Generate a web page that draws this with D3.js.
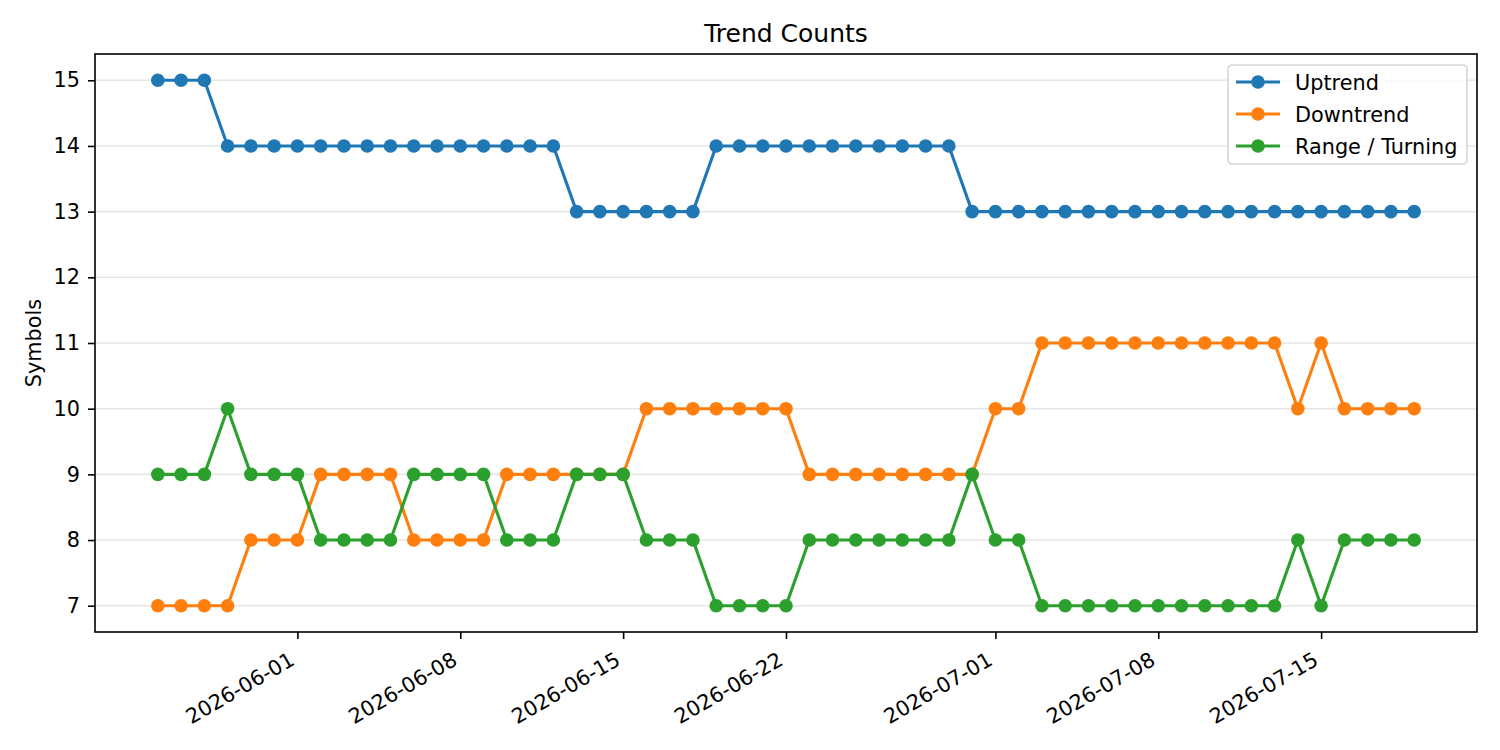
<!DOCTYPE html>
<html>
<head>
<meta charset="utf-8">
<script src="https://cdn.jsdelivr.net/npm/d3@7"></script>
<style>
body { margin: 0; background: #fff; }
text { font-family: "DejaVu Sans", sans-serif; }
</style>
</head>
<body>
<script>
// dates of the daily counts
const dates = [
  "2026-05-26","2026-05-27","2026-05-28","2026-05-29","2026-05-30","2026-05-31",
  "2026-06-01","2026-06-02","2026-06-03","2026-06-04","2026-06-05","2026-06-06","2026-06-07",
  "2026-06-08","2026-06-09","2026-06-10","2026-06-11","2026-06-12","2026-06-13","2026-06-14",
  "2026-06-15","2026-06-16","2026-06-17","2026-06-18","2026-06-19","2026-06-20","2026-06-21",
  "2026-06-22","2026-06-23","2026-06-24","2026-06-25","2026-06-26","2026-06-27","2026-06-28",
  "2026-06-29","2026-06-30","2026-07-01","2026-07-02","2026-07-03","2026-07-04","2026-07-05",
  "2026-07-06","2026-07-07","2026-07-08","2026-07-09","2026-07-10","2026-07-11","2026-07-12",
  "2026-07-13","2026-07-14","2026-07-15","2026-07-16","2026-07-17","2026-07-18","2026-07-19"
];
const uptrend = [
  15,15,15,14,14,14,
  14,14,14,14,14,14,14,
  14,14,14,14,14,13,13,
  13,13,13,13,14,14,14,
  14,14,14,14,14,14,14,
  14,13,13,13,13,13,13,
  13,13,13,13,13,13,13,
  13,13,13,13,13,13,13
];
const downtrend = [
  7,7,7,7,8,8,
  8,9,9,9,9,8,8,
  8,8,9,9,9,9,9,
  9,10,10,10,10,10,10,
  10,9,9,9,9,9,9,
  9,9,10,10,11,11,11,
  11,11,11,11,11,11,11,
  11,10,11,10,10,10,10
];
const rangeTurning = [
  9,9,9,10,9,9,
  9,8,8,8,8,9,9,
  9,9,8,8,8,9,9,
  9,8,8,8,7,7,7,
  7,8,8,8,8,8,8,
  8,9,8,8,7,7,7,
  7,7,7,7,7,7,7,
  7,8,7,8,8,8,8
];
const seriesNames = ["Uptrend", "Downtrend", "Range / Turning"];
const seriesColors = ["#1f77b4", "#ff7f0e", "#2ca02c"];
const yTicks = [7, 8, 9, 10, 11, 12, 13, 14, 15];
const xTickDates = ["2026-06-01","2026-06-08","2026-06-15","2026-06-22","2026-07-01","2026-07-08","2026-07-15"];

const W = 1500, H = 750;
const plotL = 95, plotR = 1477, plotT = 54, plotB = 632;

const parse = d3.utcParse("%Y-%m-%d");
const days = dates.map(parse);
const allSeries = [uptrend, downtrend, rangeTurning];

const svg = d3.select("body").append("svg")
  .attr("width", W)
  .attr("height", H);

// matplotlib-like 5% margins
const x0 = days[0], x1 = days[days.length - 1];
const span = x1 - x0;
const x = d3.scaleUtc()
  .domain([new Date(+x0 - span * 0.05), new Date(+x1 + span * 0.05)])
  .range([plotL, plotR]);

const yMin = d3.min(allSeries.flat()), yMax = d3.max(allSeries.flat());
const yPad = (yMax - yMin) * 0.05;
const y = d3.scaleLinear()
  .domain([yMin - yPad, yMax + yPad])
  .range([plotB, plotT]);

// grid
svg.append("g")
  .selectAll("line")
  .data(yTicks)
  .enter()
  .append("line")
  .attr("x1", plotL)
  .attr("x2", plotR)
  .attr("y1", d => y(d))
  .attr("y2", d => y(d))
  .attr("stroke", "#e6e6e6")
  .attr("stroke-width", 1.6)

// lines and markers
const line = d3.line()
  .x((d, i) => x(days[i]))
  .y(d => y(d));

allSeries.forEach((vals, k) => {
  const g = svg.append("g");
  g.append("path")
    .datum(vals)
    .attr("d", line)
    .attr("fill", "none")
    .attr("stroke", seriesColors[k])
    .attr("stroke-width", 3.1)
    .attr("stroke-linejoin", "round");
  g.selectAll("circle")
    .data(vals)
    .enter()
    .append("circle")
    .attr("cx", (d, i) => x(days[i]))
    .attr("cy", d => y(d))
    .attr("r", 6.8)
    .attr("fill", seriesColors[k]);
});

// axes frame
svg.append("rect")
  .attr("x", plotL)
  .attr("y", plotT)
  .attr("width", plotR - plotL)
  .attr("height", plotB - plotT)
  .attr("fill", "none")
  .attr("stroke", "#000")
  .attr("stroke-width", 1.6);

// y axis
const yAxis = d3.axisLeft(y)
  .tickValues(yTicks)
  .tickSize(7)
  .tickPadding(8)
  .tickFormat(d3.format("d"));
const gy = svg.append("g")
  .attr("transform", `translate(${plotL},0)`)
  .call(yAxis);
gy.select(".domain").remove();
gy.selectAll(".tick line").attr("stroke", "#000").attr("stroke-width", 1.6);
gy.selectAll(".tick text")
  .attr("fill", "#000")
  .style("font-size", "20.8px")
  .style("font-family", "DejaVu Sans");

// x axis
const xAxis = d3.axisBottom(x)
  .tickValues(xTickDates.map(parse))
  .tickSize(7)
  .tickFormat(d3.utcFormat("%Y-%m-%d"));
const gx = svg.append("g")
  .attr("transform", `translate(0,${plotB})`)
  .call(xAxis);
gx.select(".domain").remove();
gx.selectAll(".tick line").attr("stroke", "#000").attr("stroke-width", 1.6);
gx.selectAll(".tick text")
  .attr("fill", "#000")
  .style("font-size", "20.8px")
  .style("font-family", "DejaVu Sans")
  .attr("text-anchor", "end")
  .attr("dy", null)
  .attr("y", 0)
  .attr("transform", "translate(-2,32) rotate(-30)");

// title + label
svg.append("text")
  .attr("x", (plotL + plotR) / 2)
  .attr("y", 42)
  .attr("text-anchor", "middle")
  .style("font-size", "25px")
  .text("Trend Counts");

svg.append("text")
  .attr("transform", `translate(41,${(plotT + plotB) / 2}) rotate(-90)`)
  .attr("text-anchor", "middle")
  .style("font-size", "20.8px")
  .text("Symbols");

// legend
const lg = svg.append("g").attr("transform", "translate(1228,65)");
lg.append("rect")
  .attr("width", 239)
  .attr("height", 99)
  .attr("rx", 4)
  .attr("fill", "#fff")
  .attr("fill-opacity", 0.8)
  .attr("stroke", "#d6d6d6")
  .attr("stroke-width", 1.6);
const items = lg.selectAll("g.item")
  .data(seriesNames)
  .enter()
  .append("g")
  .attr("transform", (d, i) => `translate(0,${17 + i * 32})`);
items.append("line")
  .attr("x1", 8).attr("x2", 52)
  .attr("stroke", (d, i) => seriesColors[i])
  .attr("stroke-width", 3.1);
items.append("circle")
  .attr("cx", 30)
  .attr("r", 6.8)
  .attr("fill", (d, i) => seriesColors[i]);
items.append("text")
  .attr("x", 67)
  .attr("y", 7.5)
  .style("font-size", "20.8px")
  .text(d => d);
</script>
</body>
</html>
